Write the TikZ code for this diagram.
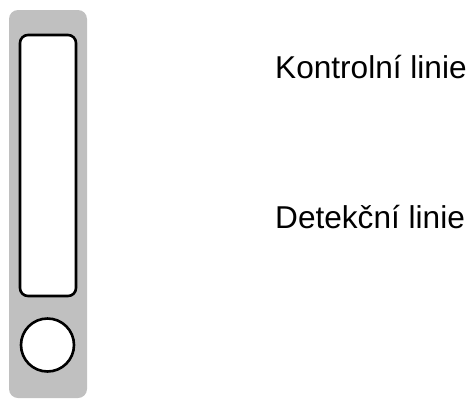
\documentclass[tikz,border=0pt]{standalone}
\usepackage{fontspec}
\setmainfont{Liberation Sans}
\definecolor{stripgray}{RGB}{192,192,192}
\tikzset{
  window/.style={draw=black, line width=2.6pt, fill=white},
  label/.style={anchor=base west, font=\fontsize{31.6}{38}\selectfont, inner sep=0pt}
}
\begin{document}
\begin{tikzpicture}[x=1pt, y=-1pt]
  \useasboundingbox (0,0) rectangle (468,402);
  % test strip body
  \fill[stripgray, rounded corners=9pt] (9,10) rectangle (87,398);
  % result window and sample well
  \draw[window, rounded corners=8pt] (20,35) rectangle (76,296);
  \node[window, circle, minimum size=53pt, inner sep=0pt] (well) at (47.5,345) {};
  % labels
  \node[label] (control) at (275,78) {Kontrolní linie};
  \node[label] (test) at (275,228) {Detekční linie};
\end{tikzpicture}
\end{document}
